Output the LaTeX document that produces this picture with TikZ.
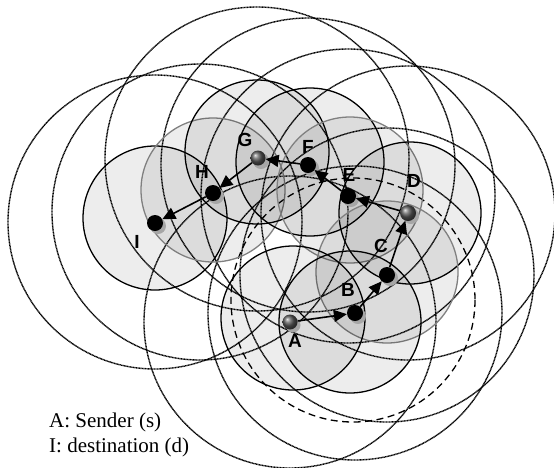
\documentclass[tikz,border=0pt]{standalone}
\usepackage{fontspec}
\setmainfont{Liberation Serif}
\newfontfamily\labfont{Liberation Sans}
\usetikzlibrary{arrows.meta}
\begin{document}
\begin{tikzpicture}[x=1pt,y=-1pt,
  rangeb/.style={draw=black,line width=1.3pt,fill=black,fill opacity=0.07,draw opacity=1},
  rangeg/.style={draw=gray,line width=1.3pt,fill=black,fill opacity=0.07,draw opacity=1},
  far/.style={draw=black,line width=1.4pt,dash pattern=on 1pt off 0.5pt},
  dcirc/.style={draw=black,line width=1.3pt,dash pattern=on 7pt off 4.5pt},
  ball/.style={circle,fill=black,minimum size=16pt,inner sep=0pt},
  sball/.style={circle,ball color=gray!70!black,minimum size=15pt,inner sep=0pt},
  shad/.style={fill=gray!70},
  hop/.style={line width=1.6pt,-{Triangle[length=13pt,width=12pt]}},
  lab/.style={font=\labfont\bfseries\fontsize{19}{20}\selectfont,inner sep=0pt},
  legend/.style={font=\fontsize{21}{25}\selectfont,align=left,inner sep=0pt,anchor=north west}
]
\useasboundingbox (0,0) rectangle (554,467);
% dotted transmission circles
\draw[far] (155,222) circle (147);
\draw[far] (200,212) circle (148);
\draw[far] (257,159) circle (152);
\draw[far] (308,165) circle (147);
\draw[far] (348,196) circle (147);
\draw[far] (408,213) circle (147);
\draw[far] (387,275) circle (147);
\draw[far] (355,313) circle (147);
\draw[far] (290,322) circle (146);
% dashed circle
\draw[dcirc] (353,300) circle (122);
% solid ranges
\path[rangeb] (155,218) circle (72);
\path[rangeg] (213,190) circle (72);
\path[rangeb] (257,152) circle (72);
\path[rangeb] (310,162) circle (74);
\path[rangeg] (350,190) circle (73);
\path[rangeb] (410,213) circle (71);
\path[rangeg] (387,272) circle (71);
\path[rangeb] (350,322) circle (71);
\path[rangeb] (293,318) circle (72);
% shadows
\fill[shad] (293,325) circle (7.5);
\fill[shad] (358,316) circle (8);
\fill[shad] (390,278) circle (8);
\fill[shad] (411,216) circle (8);
\fill[shad] (351,199) circle (8);
\fill[shad] (311,168) circle (8);
\fill[shad] (261,161) circle (8);
\fill[shad] (216,196) circle (8);
\fill[shad] (158,226) circle (8);
% nodes
\node[sball,minimum width=15pt,minimum height=13pt] (A) at (290,322) {};
\node[ball] (B) at (355,313) {};
\node[ball] (C) at (387,275) {};
\node[sball,minimum size=16pt] (D) at (408,213) {};
\node[ball] (E) at (348,196) {};
\node[ball] (F) at (308,165) {};
\node[sball] (G) at (258,158) {};
\node[ball] (H) at (213,193) {};
\node[ball] (I) at (155,223) {};
% hops
\draw[hop] (A) -- (B);
\draw[hop] (B) -- (C);
\draw[hop] (C) -- (D);
\draw[hop] (D) -- (E);
\draw[hop] (E) -- (F);
\draw[hop] (F) -- (G);
\draw[hop] (G) -- (H);
\draw[hop] (H) -- (I);
% labels
\node[lab] (lA) at (295,341) {A};
\node[lab] (lB) at (348,290) {B};
\node[lab] (lC) at (381,246) {C};
\node[lab] (lD) at (414,181) {D};
\node[lab] (lE) at (349,175) {E};
\node[lab] (lF) at (308,147) {F};
\node[lab] (lG) at (245,140) {G};
\node[lab] (lH) at (202,172) {H};
\node[lab] (lI) at (137,242) {I};
\node[legend] (leg) at (49,413) {A: Sender (s)\\I: destination (d)};
\end{tikzpicture}
\end{document}
